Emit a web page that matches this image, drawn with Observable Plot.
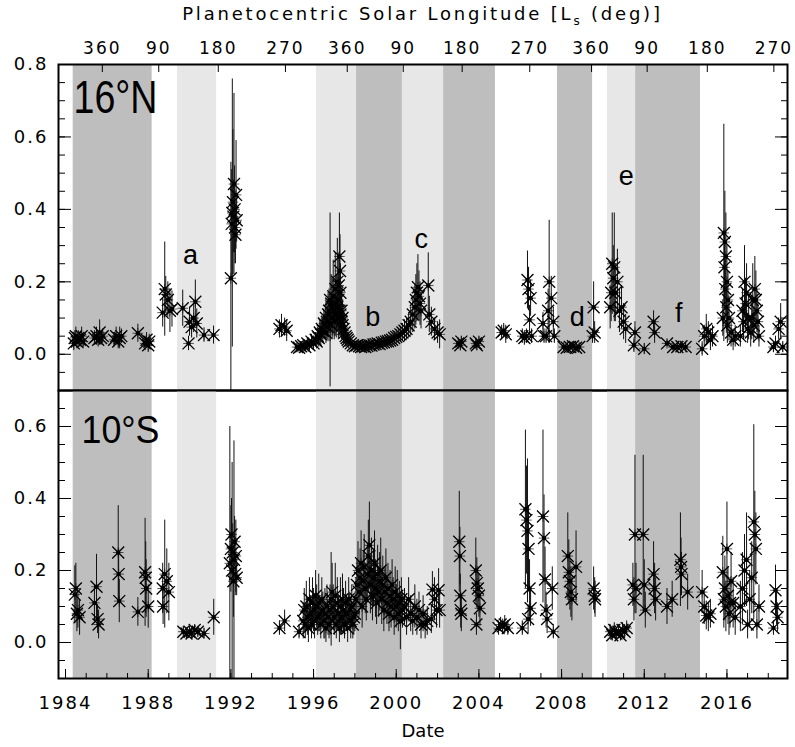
<!DOCTYPE html>
<html><head><meta charset="utf-8">
<script src="https://cdn.jsdelivr.net/npm/d3@7"></script>
<script src="https://cdn.jsdelivr.net/npm/@observablehq/plot@0.6"></script>
<style>
body{margin:0;background:#fff;}
#wrap{position:relative;width:795px;font-family:"DejaVu Sans",sans-serif;}
#title{position:absolute;left:58px;width:729px;top:3px;text-align:center;font-size:18px;letter-spacing:2.8px;color:#000;}
#title sub{font-size:12px;}
svg{display:block;}
svg g[aria-label$="tick label"]{letter-spacing:2px;}
</style></head><body>
<div id="wrap"><div id="title">Planetocentric Solar Longitude [L<sub>s</sub> (deg)]</div></div>
<script>
// ---- axes / annotations ----
const dateTicks = [1984, 1988, 1992, 1996, 2000, 2004, 2008, 2012, 2016];
const lsTickDates = [1985.78, 1988.51, 1991.39, 1994.64, 1997.63, 2000.34, 2003.19, 2006.46, 2009.45, 2012.14, 2015.05, 2018.27];
const lsTickLabels = ["360", "90", "180", "270", "360", "90", "180", "270", "360", "90", "180", "270"];
// shaded seasons: [start, end, tone]
const seasonBands = [
  [1984.37, 1988.19, "dark"], [1989.42, 1991.31, "light"], [1996.14, 1998.08, "light"],
  [1998.08, 2000.30, "dark"], [2000.30, 2002.29, "light"], [2002.29, 2004.80, "dark"],
  [2007.80, 2009.50, "dark"], [2010.22, 2011.58, "light"], [2011.58, 2014.72, "dark"]
];
const northLetters = [["a", 1990.05, 0.274], ["b", 1998.87, 0.103], ["c", 2001.21, 0.318],
  ["d", 2008.76, 0.103], ["e", 2011.13, 0.491], ["f", 2013.67, 0.113]];

// ---- 16°N data: [date, value, error] ----
const north1984 = [[1984.40,0.030,0.02],[1984.45,0.045,0.02],[1984.50,0.050,0.025],[1984.55,0.035,0.02],[1984.62,0.045,0.02],[1984.70,0.040,0.02],[1984.78,0.050,0.025],[1984.85,0.035,0.02]];
const north1985 = [[1985.40,0.045,0.02],[1985.50,0.050,0.025],[1985.58,0.040,0.02],[1985.65,0.060,0.035],[1985.72,0.045,0.02],[1985.80,0.050,0.02],
  [1986.35,0.040,0.02],[1986.45,0.050,0.025],[1986.55,0.035,0.02],[1986.62,0.045,0.03],[1986.70,0.050,0.02],
  [1987.50,0.058,0.025],[1987.85,0.030,0.02],[1987.92,0.040,0.02],[1988.00,0.025,0.02],[1988.05,0.035,0.02]];
const northA = [[1988.70,0.115,0.04],[1988.80,0.180,0.13],[1988.85,0.165,0.05],[1988.95,0.150,0.05],[1989.05,0.120,0.06],[1989.15,0.125,0.05],[1989.67,0.127,0.05],
  [1989.95,0.030,0.02],[1990.00,0.090,0.04],[1990.10,0.075,0.03],[1990.20,0.100,0.04],[1990.28,0.145,0.06],[1990.35,0.085,0.04],[1990.70,0.053,0.02],[1991.16,0.053,0.025]];
const north1992 = [[1992.00,0.210,0.32],[1992.04,0.360,0.15],[1992.07,0.390,0.37],[1992.10,0.420,0.20],[1992.12,0.380,0.10],[1992.15,0.470,0.25],[1992.18,0.400,0.12],
  [1992.20,0.350,0.10],[1992.22,0.330,0.08],[1992.25,0.440,0.15],[1992.28,0.370,0.06],
  [1994.35,0.070,0.025],[1994.45,0.080,0.03],[1994.60,0.075,0.025],[1994.70,0.065,0.03]];
const north1997 = [[1995.20,0.020,0.01],[1995.30,0.018,0.01],[1995.40,0.022,0.012],[1995.50,0.025,0.012],[1995.60,0.020,0.012],[1995.70,0.030,0.015],[1995.80,0.025,0.015],[1995.90,0.035,0.02],
  [1996.00,0.030,0.02],[1996.10,0.040,0.02],[1996.15,0.035,0.02],[1996.20,0.050,0.025],[1996.25,0.045,0.025],[1996.30,0.060,0.03],[1996.35,0.055,0.03],[1996.40,0.070,0.03],
  [1996.45,0.065,0.035],[1996.50,0.085,0.04],[1996.55,0.080,0.04],[1996.60,0.100,0.05],[1996.65,0.090,0.05],[1996.70,0.110,0.06],[1996.75,0.120,0.06],[1996.80,0.150,0.24],
  [1996.85,0.140,0.08],[1996.90,0.130,0.08],[1996.95,0.160,0.10],[1997.00,0.120,0.07],[1997.05,0.180,0.10],[1997.10,0.140,0.08],[1997.15,0.200,0.12],[1997.20,0.150,0.08],
  [1997.25,0.270,0.12],[1997.28,0.230,0.10],[1997.30,0.110,0.06],[1997.35,0.090,0.05],[1997.40,0.080,0.04],[1997.45,0.070,0.04],[1997.50,0.060,0.03],[1997.55,0.050,0.03],
  [1997.60,0.045,0.025],[1997.65,0.040,0.02],[1997.70,0.035,0.02],[1997.80,0.030,0.015],[1997.90,0.025,0.012],[1998.00,0.022,0.01],
  [1996.60,0.060,0.03],[1996.70,0.075,0.04],[1996.80,0.085,0.05],[1996.90,0.100,0.06],[1997.00,0.090,0.05],[1997.05,0.110,0.06],[1997.10,0.095,0.05],
  [1997.15,0.130,0.07],[1997.20,0.100,0.06],[1997.22,0.190,0.09],[1997.25,0.120,0.07],[1997.30,0.170,0.08],[1997.35,0.120,0.06],[1997.40,0.100,0.05]];
const northB = [[1998.10,0.025,0.012],[1998.20,0.022,0.01],[1998.30,0.020,0.01],[1998.40,0.022,0.01],[1998.50,0.020,0.01],[1998.60,0.023,0.01],[1998.70,0.025,0.012],
  [1998.80,0.024,0.012],[1998.90,0.027,0.012],[1999.00,0.028,0.012],[1999.10,0.030,0.012],[1999.20,0.028,0.012],[1999.30,0.032,0.014],[1999.40,0.033,0.014],
  [1999.50,0.035,0.015],[1999.60,0.036,0.015],[1999.70,0.038,0.015],[1999.80,0.040,0.016],[1999.90,0.045,0.018],[2000.00,0.048,0.02],[2000.10,0.050,0.02],
  [2000.20,0.055,0.022],[2000.30,0.060,0.025]];
const northC = [[2000.40,0.065,0.03],[2000.50,0.070,0.03],[2000.60,0.080,0.035],[2000.70,0.090,0.04],[2000.80,0.110,0.05],[2000.90,0.130,0.06],[2000.95,0.150,0.07],
  [2001.00,0.170,0.08],[2001.05,0.185,0.09],[2001.10,0.160,0.07],[2001.15,0.140,0.06],[2001.20,0.120,0.05],[2001.55,0.190,0.09],[2001.60,0.110,0.05],
  [2001.70,0.090,0.04],[2001.85,0.070,0.03],[2002.00,0.060,0.03],[2002.10,0.055,0.04],
  [2003.00,0.030,0.015],[2003.10,0.025,0.015],[2003.15,0.035,0.015],[2003.85,0.030,0.015],[2003.90,0.025,0.015],[2004.00,0.035,0.015],
  [2005.10,0.060,0.02],[2005.20,0.065,0.02],[2005.30,0.055,0.025]];
const north2007 = [[2006.10,0.050,0.02],[2006.20,0.045,0.02],[2006.30,0.050,0.02],[2006.35,0.205,0.08],[2006.40,0.180,0.06],[2006.45,0.095,0.04],[2006.50,0.155,0.05],[2006.55,0.050,0.02],
  [2007.10,0.085,0.03],[2007.15,0.050,0.02],[2007.25,0.050,0.02],[2007.35,0.120,0.06],[2007.40,0.200,0.17],[2007.50,0.155,0.06],[2007.60,0.090,0.04],[2007.65,0.050,0.02]];
const northD = [[2008.10,0.020,0.01],[2008.25,0.018,0.01],[2008.40,0.020,0.01],[2008.55,0.022,0.01],[2008.70,0.018,0.01],[2008.85,0.020,0.01],
  [2009.50,0.050,0.02],[2009.55,0.130,0.07],[2009.60,0.060,0.03]];
const northE = [[2010.35,0.130,0.06],[2010.40,0.170,0.08],[2010.45,0.250,0.14],[2010.50,0.210,0.09],[2010.55,0.240,0.15],[2010.60,0.170,0.08],[2010.70,0.200,0.09],
  [2010.80,0.120,0.06],[2010.90,0.130,0.06],[2011.00,0.090,0.05],[2011.10,0.070,0.04]];
const northF = [[2011.50,0.025,0.02],[2011.55,0.060,0.03],[2012.00,0.015,0.015],[2012.45,0.090,0.03],[2012.50,0.060,0.03],[2013.10,0.030,0.01],[2013.40,0.020,0.01],
  [2013.60,0.020,0.01],[2013.80,0.022,0.01],[2014.00,0.020,0.01],
  [2014.80,0.015,0.02],[2014.90,0.050,0.03],[2015.00,0.070,0.04],[2015.10,0.060,0.03],[2015.20,0.040,0.03],[2015.30,0.050,0.03]];
const north2016 = [[2015.80,0.100,0.05],[2015.85,0.335,0.30],[2015.88,0.240,0.10],[2015.90,0.310,0.14],[2015.92,0.180,0.08],[2015.95,0.270,0.12],[2015.97,0.130,0.07],
  [2016.00,0.200,0.10],[2016.02,0.080,0.05],[2016.05,0.150,0.08],[2016.10,0.100,0.06],[2016.20,0.060,0.04],[2016.30,0.040,0.03],[2016.40,0.050,0.03],
  [2016.65,0.050,0.03],[2016.75,0.120,0.06],[2016.80,0.090,0.05],[2016.85,0.200,0.10],[2016.90,0.140,0.07],[2016.95,0.170,0.08],[2017.00,0.070,0.04],
  [2017.05,0.100,0.06],[2017.15,0.060,0.04],[2017.20,0.100,0.06],[2017.25,0.150,0.10],[2017.30,0.080,0.05],[2017.35,0.180,0.09],[2017.40,0.150,0.08],
  [2017.45,0.120,0.06],[2017.50,0.090,0.05],[2017.55,0.050,0.03],
  [2018.25,0.020,0.015],[2018.35,0.030,0.02],[2018.50,0.070,0.03],[2018.60,0.090,0.05],[2018.70,0.020,0.015]];

// ---- 10°S data: [date, value, error] ----
const south1984 = [[1984.45,0.133,0.08],[1984.50,0.150,0.07],[1984.55,0.080,0.05],[1984.60,0.090,0.05],[1984.68,0.070,0.05],
  [1985.40,0.110,0.05],[1985.50,0.155,0.09],[1985.55,0.065,0.04],[1985.60,0.050,0.04],
  [1986.55,0.250,0.13],[1986.57,0.190,0.07],[1986.60,0.115,0.06],
  [1987.50,0.085,0.04],[1987.85,0.195,0.15],[1987.88,0.180,0.10],[1987.90,0.150,0.08],[1988.00,0.100,0.06],
  [1988.70,0.150,0.07],[1988.72,0.100,0.05],[1988.80,0.190,0.15],[1988.90,0.170,0.09],[1989.00,0.140,0.08]];
const south1990 = [[1989.70,0.030,0.015],[1989.85,0.025,0.015],[1990.00,0.030,0.015],[1990.10,0.025,0.015],[1990.25,0.035,0.015],[1990.40,0.030,0.015],
  [1990.70,0.025,0.015],[1991.17,0.070,0.05]];
const south1992 = [[1991.95,0.220,0.38],[1992.00,0.260,0.12],[1992.03,0.300,0.10],[1992.06,0.200,0.30],[1992.09,0.250,0.08],[1992.12,0.170,0.10],
  [1992.15,0.230,0.33],[1992.18,0.280,0.07],[1992.21,0.190,0.06],[1992.24,0.240,0.10],[1992.28,0.180,0.05],
  [1994.35,0.040,0.02],[1994.60,0.060,0.03],[1995.30,0.030,0.02]];
const south1997 = [[1995.50,0.06,0.05],[1995.55,0.09,0.06],[1995.60,0.05,0.04],[1995.65,0.10,0.07],[1995.70,0.07,0.05],[1995.75,0.04,0.04],[1995.80,0.12,0.06],
  [1995.85,0.08,0.05],[1995.90,0.05,0.04],[1995.95,0.11,0.07],[1996.00,0.09,0.06],[1996.05,0.06,0.05],[1996.10,0.13,0.07],[1996.15,0.10,0.06],[1996.20,0.07,0.05],
  [1996.25,0.11,0.08],[1996.30,0.08,0.05],[1996.35,0.05,0.04],[1996.40,0.12,0.06],[1996.45,0.09,0.05],[1996.50,0.06,0.05],[1996.55,0.08,0.07],[1996.60,0.04,0.04],
  [1996.65,0.10,0.06],[1996.70,0.07,0.05],[1996.75,0.05,0.04],[1996.80,0.09,0.07],[1996.85,0.12,0.13],[1996.90,0.14,0.08],[1996.95,0.10,0.06],[1997.00,0.07,0.05],
  [1997.05,0.13,0.09],[1997.10,0.05,0.04],[1997.15,0.11,0.07],[1997.20,0.08,0.05],[1997.25,0.04,0.04],[1997.30,0.10,0.08],[1997.35,0.07,0.05],[1997.40,0.12,0.07],
  [1997.45,0.09,0.06],[1997.50,0.05,0.04],[1997.55,0.11,0.06],[1997.60,0.08,0.05],[1997.65,0.04,0.04],[1997.70,0.12,0.06],[1997.75,0.09,0.05],[1997.80,0.06,0.05],
  [1997.85,0.10,0.06],[1997.90,0.05,0.04],[1997.95,0.07,0.05]];
const south1999 = [[1998.00,0.08,0.05],[1998.05,0.12,0.06],[1998.10,0.16,0.07],[1998.15,0.20,0.08],[1998.20,0.14,0.07],[1998.25,0.18,0.08],[1998.30,0.22,0.09],
  [1998.35,0.10,0.06],[1998.40,0.17,0.08],[1998.45,0.21,0.09],[1998.50,0.15,0.07],[1998.55,0.12,0.06],[1998.60,0.19,0.08],[1998.65,0.24,0.10],[1998.70,0.27,0.12],
  [1998.75,0.16,0.08],[1998.80,0.20,0.09],[1998.85,0.13,0.07],[1998.90,0.18,0.08],[1998.95,0.22,0.09],[1999.00,0.15,0.08],[1999.05,0.11,0.06],[1999.10,0.19,0.08],
  [1999.15,0.14,0.07],[1999.20,0.17,0.08],[1999.25,0.20,0.09],[1999.30,0.12,0.07],[1999.35,0.16,0.08],[1999.40,0.09,0.06],[1999.45,0.14,0.07],[1999.50,0.18,0.08],
  [1999.55,0.11,0.06],[1999.60,0.15,0.07],[1999.65,0.08,0.05],[1999.70,0.13,0.07],[1999.75,0.10,0.06],[1999.80,0.16,0.07],[1999.85,0.12,0.06],[1999.90,0.07,0.05],
  [1999.95,0.14,0.07],[2000.00,0.10,0.06],[2000.05,0.13,0.07],[2000.10,0.08,0.05],[2000.15,0.11,0.06],[2000.20,0.06,0.08],[2000.25,0.12,0.06],[2000.30,0.09,0.05]];
const south2001 = [[2000.40,0.10,0.05],[2000.50,0.07,0.05],[2000.60,0.12,0.06],[2000.70,0.08,0.05],[2000.80,0.06,0.04],[2000.90,0.10,0.06],[2001.00,0.07,0.05],
  [2001.10,0.09,0.05],[2001.20,0.05,0.04],[2001.30,0.08,0.05],[2001.40,0.05,0.04],[2001.50,0.06,0.04],[2001.70,0.065,0.04],[2001.75,0.147,0.05],
  [2001.85,0.12,0.06],[2001.95,0.09,0.05],[2002.05,0.145,0.06],[2002.10,0.09,0.05],
  [2003.05,0.28,0.14],[2003.08,0.24,0.08],[2003.10,0.13,0.06],[2003.12,0.09,0.05],[2003.15,0.08,0.05],[2003.85,0.20,0.09],[2003.88,0.05,0.03],
  [2003.90,0.165,0.07],[2003.95,0.15,0.06],[2004.00,0.13,0.06],[2004.05,0.095,0.05],
  [2004.95,0.04,0.02],[2005.05,0.05,0.02],[2005.15,0.045,0.02],[2005.25,0.05,0.025],[2005.40,0.04,0.02]];
const south2007 = [[2006.10,0.04,0.02],[2006.25,0.37,0.22],[2006.30,0.34,0.15],[2006.35,0.31,0.20],[2006.38,0.065,0.04],[2006.40,0.26,0.12],[2006.45,0.15,0.08],
  [2006.50,0.095,0.05],[2007.10,0.35,0.24],[2007.15,0.29,0.12],[2007.20,0.175,0.09],[2007.25,0.09,0.05],[2007.30,0.065,0.04],[2007.55,0.15,0.06],[2007.60,0.03,0.02],
  [2008.30,0.24,0.12],[2008.35,0.195,0.09],[2008.40,0.17,0.08],[2008.45,0.14,0.07],[2008.50,0.12,0.06],[2008.70,0.21,0.10],
  [2009.55,0.15,0.06],[2009.60,0.13,0.05],[2009.62,0.12,0.05]];
const south2011 = [[2010.35,0.03,0.02],[2010.45,0.02,0.015],[2010.55,0.035,0.02],[2010.65,0.025,0.015],[2010.75,0.03,0.02],[2010.85,0.02,0.015],[2010.95,0.035,0.02],
  [2011.05,0.03,0.02],[2011.15,0.04,0.02],
  [2011.45,0.16,0.06],[2011.50,0.12,0.06],[2011.55,0.30,0.22],[2011.60,0.15,0.07],[2011.95,0.30,0.22],[2012.00,0.16,0.07],[2012.05,0.09,0.05],
  [2012.45,0.19,0.09],[2012.50,0.15,0.07],[2012.55,0.12,0.06],[2013.10,0.10,0.05],[2013.35,0.12,0.05],[2013.75,0.23,0.13],[2013.78,0.21,0.08],
  [2013.80,0.19,0.06],[2014.10,0.14,0.05],
  [2014.80,0.14,0.06],[2014.90,0.10,0.05],[2015.00,0.075,0.04],[2015.10,0.07,0.04],[2015.20,0.08,0.04]];
const south2016 = [[2015.80,0.195,0.10],[2015.85,0.12,0.08],[2015.90,0.15,0.09],[2015.95,0.10,0.07],[2016.00,0.26,0.13],[2016.05,0.13,0.08],[2016.10,0.08,0.06],
  [2016.15,0.11,0.07],[2016.20,0.17,0.08],[2016.30,0.11,0.07],[2016.40,0.07,0.05],[2016.65,0.10,0.07],[2016.75,0.15,0.10],[2016.85,0.20,0.10],
  [2016.95,0.23,0.13],[2017.00,0.05,0.04],[2017.10,0.12,0.08],[2017.20,0.18,0.10],[2017.30,0.335,0.27],[2017.35,0.30,0.12],[2017.40,0.26,0.10],
  [2017.45,0.05,0.04],[2017.55,0.10,0.06],
  [2018.25,0.04,0.02],[2018.35,0.145,0.07],[2018.40,0.10,0.05],[2018.45,0.07,0.04]];

const northData = [].concat(north1984, north1985, northA, north1992, north1997, northB, northC, north2007, northD, northE, northF, north2016);
const southData = [].concat(south1984, south1990, south1992, south1997, south1999, south2001, south2007, south2011, south2016);

const X_DOMAIN = [1983.66, 2018.93];
const TAG_FONT = "'Liberation Sans', Arial, sans-serif";
const darkBands = seasonBands.filter(b => b[2] === "dark");
const lightBands = seasonBands.filter(b => b[2] === "light");

function dataMarks(data) {
  return [
    Plot.ruleX(data, {x: d => d[0], y1: d => d[1] - d[2], y2: d => d[1] + d[2], stroke: "#111", strokeWidth: 1, clip: true}),
    Plot.dot(data, {x: d => d[0], y: d => d[1], symbol: "times", r: 5.5, stroke: "#000", strokeWidth: 1.3, clip: true}),
    Plot.dot(data, {x: d => d[0], y: d => d[1], symbol: "plus", r: 3.5, stroke: "#111", strokeWidth: 0.7, clip: true}),
    Plot.dot(data, {x: d => d[0], y: d => d[1], r: 2.2, fill: "#000", clip: true})
  ];
}

function yAxes(major, minor) {
  return [
    Plot.axisY(major, {anchor: "left", tickSize: 0, tickPadding: 10, tickFormat: d3.format(".1f"), fontSize: 18, label: null}),
    Plot.axisY(major, {anchor: "left", tickSize: 13, dx: 13, tickFormat: () => "", label: null}),
    Plot.axisY(minor, {anchor: "left", tickSize: 7, dx: 7, tickFormat: () => "", label: null}),
    Plot.axisY(major, {anchor: "right", tickSize: 13, dx: -13, tickFormat: () => "", label: null}),
    Plot.axisY(minor, {anchor: "right", tickSize: 7, dx: -7, tickFormat: () => "", label: null})
  ];
}

function bandMarks() {
  return [
    Plot.rect(darkBands, {x1: d => d[0], x2: d => d[1], fill: "#bebebe"}),
    Plot.rect(lightBands, {x1: d => d[0], x2: d => d[1], fill: "#e7e7e7"})
  ];
}

const minorTop = d3.range(-2, 17).map(i => +(i * 0.05).toFixed(2));
const minorBottom = d3.range(-2, 15).map(i => +(i * 0.05).toFixed(2));
const yearMinor = d3.range(1984, 2019);

const topPlot = Plot.plot({
  width: 795, height: 390, marginTop: 64, marginBottom: 0, marginLeft: 58, marginRight: 8,
  x: {domain: X_DOMAIN}, y: {domain: [-0.1, 0.8]},
  style: {fontFamily: "DejaVu Sans", fontSize: "17px", background: "transparent", overflow: "visible", color: "#000"},
  marks: [
    ...bandMarks(),
    ...dataMarks(northData),
    Plot.text(northLetters, {x: d => d[1], y: d => d[2], text: d => d[0], fontSize: 27, fontFamily: TAG_FONT, fill: "#000"}),
    Plot.text(["16°N"], {frameAnchor: "top-left", text: d => d, dx: 15, dy: 16, lineAnchor: "top", textAnchor: "start", fontSize: 46, fontFamily: TAG_FONT, fill: "#000"}),
    ...yAxes([0, 0.2, 0.4, 0.6, 0.8], minorTop),
    Plot.axisX(lsTickDates, {anchor: "top", tickSize: 0, tickPadding: 11, fontSize: 17, tickFormat: d => lsTickLabels[lsTickDates.indexOf(d)], label: null}),
    Plot.axisX(lsTickDates, {anchor: "top", tickSize: 7, dy: 7, tickFormat: () => "", label: null}),
    Plot.frame({stroke: "#000", strokeWidth: 2})
  ]
});

const bottomPlot = Plot.plot({
  width: 795, height: 357, marginTop: 0, marginBottom: 69, marginLeft: 58, marginRight: 8,
  x: {domain: X_DOMAIN}, y: {domain: [-0.1, 0.7]},
  style: {fontFamily: "DejaVu Sans", fontSize: "17px", background: "transparent", overflow: "visible", color: "#000"},
  marks: [
    ...bandMarks(),
    ...dataMarks(southData),
    Plot.text(["10°S"], {frameAnchor: "top-left", text: d => d, dx: 23, dy: 25, lineAnchor: "top", textAnchor: "start", fontSize: 39, fontFamily: TAG_FONT, fill: "#000"}),
    ...yAxes([0, 0.2, 0.4, 0.6], minorBottom),
    Plot.axisX(dateTicks, {anchor: "bottom", tickSize: 0, tickPadding: 18, fontSize: 18, tickFormat: d => String(d), label: null}),
    Plot.axisX(dateTicks, {anchor: "bottom", tickSize: 9, dy: -9, tickFormat: () => "", label: null}),
    Plot.axisX(yearMinor, {anchor: "bottom", tickSize: 5, dy: -5, tickFormat: () => "", label: null}),
    Plot.text(["Date"], {frameAnchor: "bottom", text: d => d, dy: 58, fontSize: 18, fill: "#000"}),
    Plot.frame({stroke: "#000", strokeWidth: 2})
  ]
});

// the panel tags use a narrow face in the original: squeeze them to its width
function squeeze(svg, label, length) {
  d3.select(svg).selectAll("text").filter(function () { return this.textContent === label; })
    .attr("textLength", length).attr("lengthAdjust", "spacingAndGlyphs");
}
squeeze(topPlot, "16°N", 84);
squeeze(bottomPlot, "10°S", 78);

const wrap = document.getElementById("wrap");
wrap.appendChild(topPlot);
wrap.appendChild(bottomPlot);
</script>
</body></html>
